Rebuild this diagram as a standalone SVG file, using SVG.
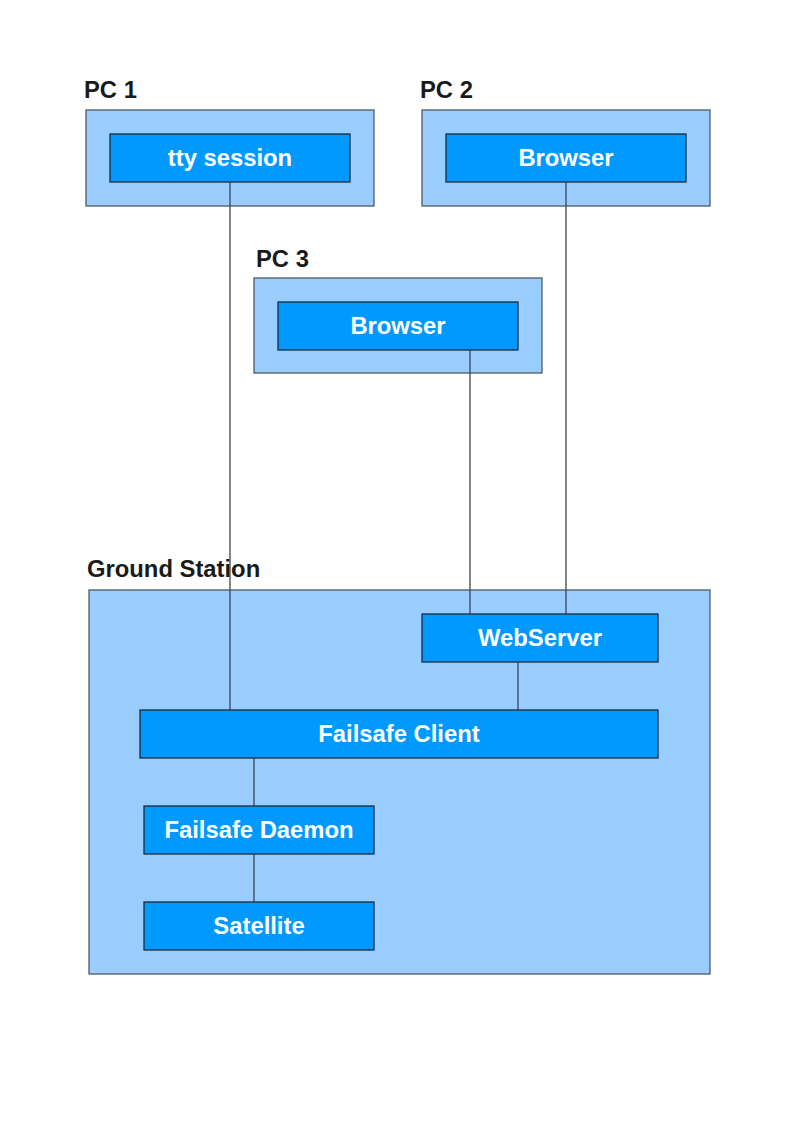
<svg xmlns="http://www.w3.org/2000/svg" width="794" height="1123" viewBox="0 0 794 1123">
<style>
.grp{fill:#99ccff;stroke:#4d5a66;stroke-width:1.3}
.node{fill:#0099ff;stroke:#1a2a3a;stroke-width:1.3}
.lbl{font-family:"Liberation Sans",Arial,sans-serif;font-weight:bold;font-size:23.8px;fill:#1a1a1a}
.txt{font-family:"Liberation Sans",Arial,sans-serif;font-weight:bold;font-size:23.8px;fill:#ffffff;text-anchor:middle}
.edge{stroke:#3a4654;stroke-width:1.3;fill:none}
</style>
<rect width="794" height="1123" fill="#ffffff"/>
<g id="pc1">
<text class="lbl" x="84" y="98">PC 1</text>
<rect class="grp" x="86" y="110" width="288" height="96"/>
</g>
<g id="pc2">
<text class="lbl" x="420" y="98">PC 2</text>
<rect class="grp" x="422" y="110" width="288" height="96"/>
</g>
<g id="pc3">
<text class="lbl" x="256" y="267">PC 3</text>
<rect class="grp" x="254" y="278" width="288" height="95"/>
</g>
<g id="ground-station">
<text class="lbl" x="87" y="577">Ground Station</text>
<rect class="grp" x="89" y="590" width="621" height="384"/>
</g>
<g id="connectors">
<line class="edge" x1="230" y1="182" x2="230" y2="710"/>
<line class="edge" x1="566" y1="182" x2="566" y2="614"/>
<line class="edge" x1="470" y1="350" x2="470" y2="614"/>
<line class="edge" x1="518" y1="662" x2="518" y2="710"/>
<line class="edge" x1="254" y1="758" x2="254" y2="806"/>
<line class="edge" x1="254" y1="854" x2="254" y2="902"/>
</g>
<g id="tty-session">
<rect class="node" x="110" y="134" width="240" height="48"/>
<text class="txt" x="230" y="166">tty session</text>
</g>
<g id="browser-pc2">
<rect class="node" x="446" y="134" width="240" height="48"/>
<text class="txt" x="566" y="166">Browser</text>
</g>
<g id="browser-pc3">
<rect class="node" x="278" y="302" width="240" height="48"/>
<text class="txt" x="398" y="334">Browser</text>
</g>
<g id="webserver">
<rect class="node" x="422" y="614" width="236" height="48"/>
<text class="txt" x="540" y="646">WebServer</text>
</g>
<g id="failsafe-client">
<rect class="node" x="140" y="710" width="518" height="48"/>
<text class="txt" x="399" y="742">Failsafe Client</text>
</g>
<g id="failsafe-daemon">
<rect class="node" x="144" y="806" width="230" height="48"/>
<text class="txt" x="259" y="838">Failsafe Daemon</text>
</g>
<g id="satellite">
<rect class="node" x="144" y="902" width="230" height="48"/>
<text class="txt" x="259" y="934">Satellite</text>
</g>
</svg>
